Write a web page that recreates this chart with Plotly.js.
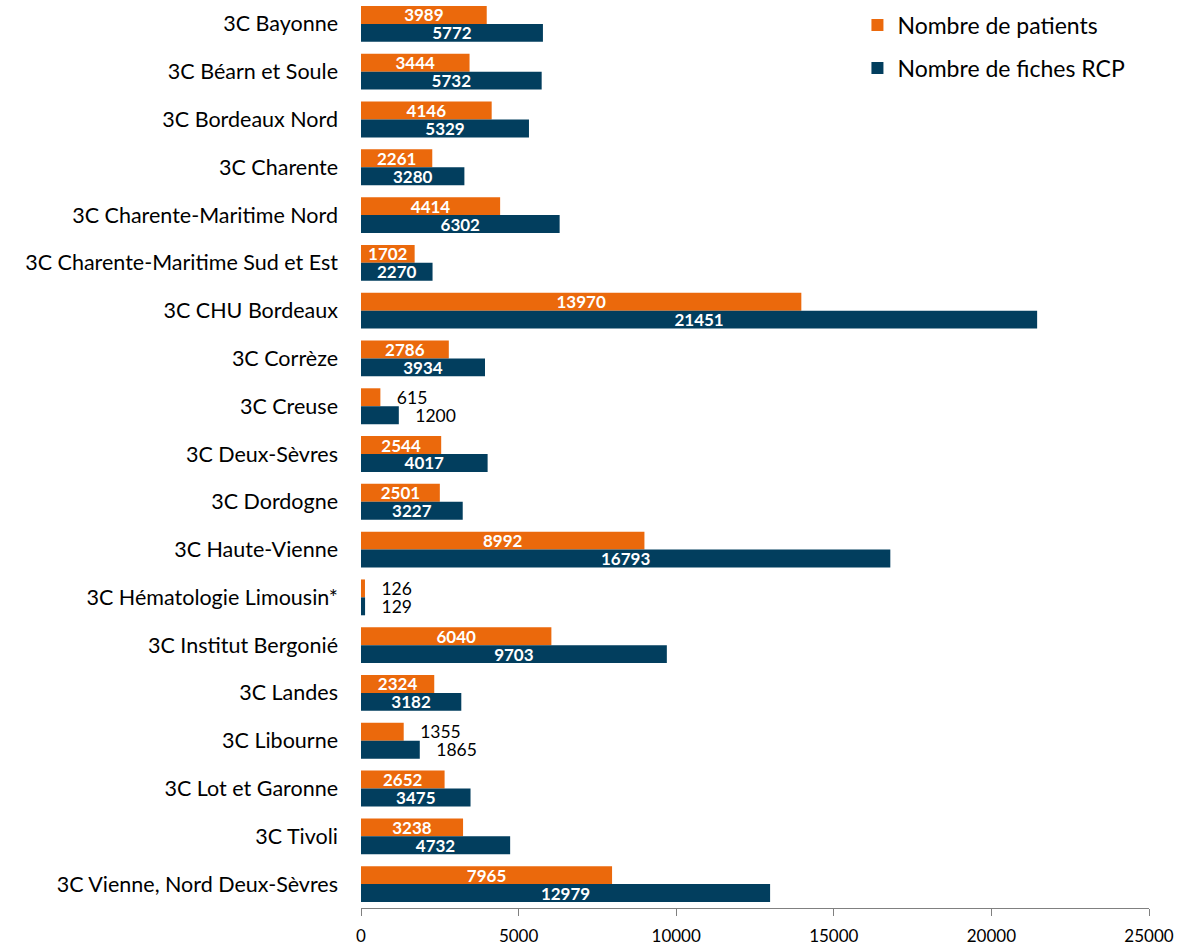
<!DOCTYPE html>
<html>
<head>
<meta charset="utf-8">
<script src="https://cdn.plot.ly/plotly-3.0.1.min.js"></script>
<style>html,body{margin:0;padding:0;background:#fff;}#chart{width:1188px;height:946px;}</style>
</head>
<body>
<div id="chart"></div>
<script>
const categories = [
  "3C Bayonne", "3C Béarn et Soule", "3C Bordeaux Nord", "3C Charente",
  "3C Charente-Maritime Nord", "3C Charente-Maritime Sud et Est", "3C CHU Bordeaux",
  "3C Corrèze", "3C Creuse", "3C Deux-Sèvres", "3C Dordogne", "3C Haute-Vienne",
  "3C Hématologie Limousin*", "3C Institut Bergonié", "3C Landes", "3C Libourne",
  "3C Lot et Garonne", "3C Tivoli", "3C Vienne, Nord Deux-Sèvres"
];
const patients = [3989, 3444, 4146, 2261, 4414, 1702, 13970, 2786, 615, 2544, 2501, 8992, 126, 6040, 2324, 1355, 2652, 3238, 7965];
const fiches = [5772, 5732, 5329, 3280, 6302, 2270, 21451, 3934, 1200, 4017, 3227, 16793, 129, 9703, 3182, 1865, 3475, 4732, 12979];
const xTicks = [0, 5000, 10000, 15000, 20000, 25000];
// categories whose value labels sit outside the bars
const outsideLabelCats = ["3C Creuse", "3C Hématologie Limousin*", "3C Libourne"];

const FONT = "Lato, 'Open Sans', sans-serif";
const NB = "\u00a0\u00a0\u00a0";

function trace(name, vals, color) {
  const isOut = categories.map(c => outsideLabelCats.includes(c));
  return {
    type: "bar", orientation: "h", name: name, legendgroup: name,
    y: categories, x: vals,
    texttemplate: isOut.map(o => o ? NB + "%{x:.0f}" : "%{x:.0f}"),
    textposition: isOut.map(o => o ? "outside" : "inside"),
    insidetextanchor: "middle",
    constraintext: "none",
    insidetextfont: {family: FONT, size: 17, color: "#ffffff", weight: "bold"},
    outsidetextfont: {family: FONT, size: 17.5, color: "#000000"},
    cliponaxis: false,
    marker: {color: color},
    hoverinfo: "x+y"
  };
}

const data = [
  trace("Nombre de patients", patients, "#EB690C"),
  trace("Nombre de fiches RCP", fiches, "#023E5E")
];

const layout = {
  width: 1188, height: 946,
  margin: {l: 361, r: 39, t: 0, b: 38, pad: 0},
  paper_bgcolor: "#ffffff", plot_bgcolor: "#ffffff",
  font: {family: FONT, size: 18, color: "#000000"},
  barmode: "group", bargap: 0.25, bargroupgap: 0,
  xaxis: {
    range: [0, 25000], tickvals: xTicks, ticktext: xTicks.map(String),
    showgrid: false, zeroline: false,
    showline: true, linecolor: "#808080", linewidth: 1,
    ticks: "outside", ticklen: 7, tickcolor: "#808080",
    ticklabelstandoff: 6,
    tickfont: {family: FONT, size: 17, color: "#000000"}
  },
  yaxis: {
    autorange: "reversed", showgrid: false, zeroline: false, showline: false,
    ticks: "", ticklabelstandoff: 22,
    tickfont: {family: FONT, size: 21.5, color: "#000000"}
  },
  legend: {
    x: 0.63, y: 0.996, xanchor: "left", yanchor: "top",
    font: {family: FONT, size: 23, color: "#000000"},
    tracegroupgap: 10, bgcolor: "rgba(0,0,0,0)"
  },
  showlegend: true
};

Plotly.newPlot("chart", data, layout, {displayModeBar: false, staticPlot: true});
</script>
</body>
</html>
